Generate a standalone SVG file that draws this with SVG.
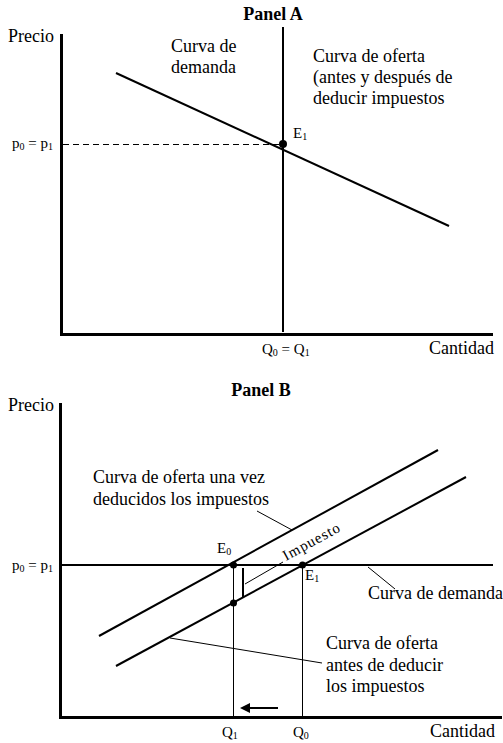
<svg xmlns="http://www.w3.org/2000/svg" width="503" height="743" viewBox="0 0 503 743">
<style>
  text { font-family: "Liberation Serif", "Times New Roman", serif; fill: #000; }
  .lbl { font-size: 18px; }
  .sm { font-size: 15px; }
  .title { font-size: 18px; font-weight: bold; }
  .axis { stroke: #000; stroke-width: 3; fill: none; }
  .curve { stroke: #000; stroke-width: 2; fill: none; }
  .thin { stroke: #000; stroke-width: 1; fill: none; }
  .dot { fill: #000; }
</style>
<defs>
  <marker id="ah" viewBox="0 0 10 10" refX="2" refY="5" markerWidth="5" markerHeight="5" orient="auto-start-reverse">
    <path d="M0,0 L10,5 L0,10 z" fill="#000"/>
  </marker>
</defs>
<rect width="503" height="743" fill="#fff"/>

<!-- Panel A -->
<g id="panelA">
  <text class="title" x="273" y="20" text-anchor="middle">Panel A</text>
  <g id="axesA">
    <line class="axis" x1="61.5" y1="34" x2="61.5" y2="335"/>
    <line class="axis" x1="60" y1="334.5" x2="493" y2="334.5"/>
    <text class="lbl" x="8" y="42">Precio</text>
    <text class="lbl" x="429" y="354">Cantidad</text>
    <text class="sm" x="12" y="148">p<tspan font-size="10" dy="2">0</tspan><tspan dy="-2"> = p</tspan><tspan font-size="10" dy="2">1</tspan></text>
    <text class="sm" x="262" y="354">Q<tspan font-size="10" dy="2">0</tspan><tspan dy="-2"> = Q</tspan><tspan font-size="10" dy="2">1</tspan></text>
  </g>
  <g id="supplyA">
    <line class="curve" x1="283" y1="27" x2="283" y2="332"/>
    <text class="lbl" x="313" y="62">Curva de oferta</text>
    <text class="lbl" x="313" y="83">(antes y después de</text>
    <text class="lbl" x="313" y="104">deducir impuestos</text>
  </g>
  <g id="demandA">
    <line class="curve" x1="116" y1="73" x2="449" y2="226"/>
    <text class="lbl" x="171" y="52">Curva de</text>
    <text class="lbl" x="171" y="73">demanda</text>
  </g>
  <g id="E1A">
    <circle class="dot" cx="283" cy="144" r="4"/>
    <text class="sm" x="293" y="138">E<tspan font-size="10" dy="2">1</tspan></text>
  </g>
</g>

<!-- Panel B -->
<g id="panelB">
  <text class="title" x="261" y="396" text-anchor="middle">Panel B</text>
  <g id="axesB">
    <line class="axis" x1="60.5" y1="403" x2="60.5" y2="718"/>
    <line class="axis" x1="59" y1="717.5" x2="502" y2="717.5"/>
    <text class="lbl" x="8" y="411">Precio</text>
    <text class="lbl" x="430" y="737">Cantidad</text>
    <text class="sm" x="12" y="570">p<tspan font-size="10" dy="2">0</tspan><tspan dy="-2"> = p</tspan><tspan font-size="10" dy="2">1</tspan></text>
    <text class="sm" x="222" y="737">Q<tspan font-size="10" dy="2">1</tspan></text>
    <text class="sm" x="293" y="737">Q<tspan font-size="10" dy="2">0</tspan></text>
  </g>
  <g id="demandB">
    <line class="curve" x1="60" y1="565" x2="493" y2="565"/>
    <text class="lbl" x="368" y="599">Curva de demanda</text>
  </g>
  <g id="supplyAfterTax">
    <line class="curve" x1="99" y1="636" x2="438" y2="450"/>
    <text class="lbl" x="93" y="483">Curva de oferta una vez</text>
    <text class="lbl" x="93" y="505">deducidos los impuestos</text>
  </g>
  <g id="supplyBeforeTax">
    <line class="curve" x1="116" y1="666" x2="466" y2="477"/>
    <text class="lbl" x="326" y="649">Curva de oferta</text>
    <text class="lbl" x="326" y="671">antes de deducir</text>
    <text class="lbl" x="326" y="692">los impuestos</text>
  </g>
  <g id="E0">
    <circle class="dot" cx="233.5" cy="565" r="3.5"/>
    <text class="sm" x="217" y="553">E<tspan font-size="10" dy="2">0</tspan></text>
  </g>
  <g id="E1B">
    <circle class="dot" cx="302.5" cy="565" r="3.5"/>
    <text class="sm" x="305" y="580">E<tspan font-size="10" dy="2">1</tspan></text>
  </g>
  <g id="Q1point">
    <circle class="dot" cx="233.5" cy="603" r="3.5"/>
  </g>
  <g id="tax">
    <line class="curve" x1="243" y1="568" x2="243" y2="597"/>
    <text x="286" y="561" font-size="15" letter-spacing="1" transform="rotate(-28.5 286 561)">Impuesto</text>
  </g>
</g>

<g id="connectors">
  <line class="thin" x1="63" y1="144.5" x2="283" y2="144.5" stroke-dasharray="6 4"/>
  <line class="thin" x1="233.5" y1="565" x2="233.5" y2="717"/>
  <line class="thin" x1="302.5" y1="565" x2="302.5" y2="717"/>
  <line class="thin" x1="257" y1="511" x2="292" y2="530"/>
  <line class="thin" x1="368" y1="567" x2="395" y2="589"/>
  <line class="thin" x1="170" y1="638" x2="322" y2="663"/>
  <line class="thin" x1="245" y1="584" x2="283" y2="562"/>
  <line class="curve" x1="278" y1="708" x2="248" y2="708" marker-end="url(#ah)"/>
</g>
</svg>
